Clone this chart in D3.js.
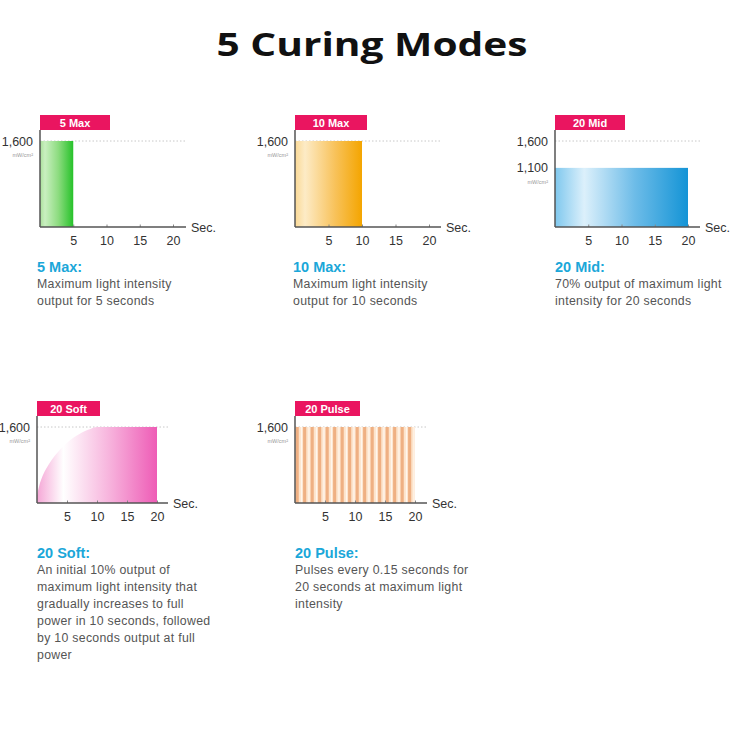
<!DOCTYPE html>
<html>
<head>
<meta charset="utf-8">
<script src="https://cdn.jsdelivr.net/npm/d3@7"></script>
<style>
  body { margin: 0; background: #fff; }
  svg { display: block; }
</style>
</head>
<body>
<svg id="chart" width="738" height="743"></svg>
<script>
// ---- data ----
const modes = ["5 Max", "10 Max", "20 Mid", "20 Soft", "20 Pulse"];
const durations = [5, 10, 20, 20, 20];          // seconds of output
const intensities = [1600, 1600, 1100, 1600, 1600]; // mW/cm²
const xTicks = [5, 10, 15, 20];
const maxIntensity = 1600;

// 20 Soft ramp (seconds, mW/cm²)
const softTimes = [0, 0.5, 1, 2, 3, 4, 5, 6, 7, 8, 9, 10, 20];
const softValues = [160, 420, 590, 820, 1000, 1150, 1270, 1370, 1450, 1515, 1565, 1600, 1600];

// 20 Pulse: start of each pulse (seconds)
const pulseStarts = [0, 1.25, 2.5, 3.75, 5, 6.25, 7.5, 8.75, 10, 11.25, 12.5, 13.75, 15, 16.25, 17.5, 18.75];

const headings = ["5 Max:", "10 Max:", "20 Mid:", "20 Soft:", "20 Pulse:"];
const descriptions = [
  ["Maximum light intensity", "output for 5 seconds"],
  ["Maximum light intensity", "output for 10 seconds"],
  ["70% output of maximum light", "intensity for 20 seconds"],
  ["An initial 10% output of", "maximum light intensity that", "gradually increases to full",
   "power in 10 seconds, followed", "by 10 seconds output at full", "power"],
  ["Pulses every 0.15 seconds for", "20 seconds at maximum light", "intensity"]
];

// ---- layout ----
const layout = [
  {x0: 40,  x1: 173, base: 227, top: 141, end: 186, lblW: 70, txt: 45, tx: -3},
  {x0: 295, x1: 429, base: 227, top: 141, end: 441, lblW: 72, txt: 45, tx: -2},
  {x0: 555, x1: 688, base: 227, top: 141, end: 700, lblW: 70, txt: 45, tx: 0},
  {x0: 37,  x1: 157, base: 503, top: 427, end: 168, lblW: 63, txt: 55, tx: 0},
  {x0: 295, x1: 415, base: 503, top: 427, end: 427, lblW: 65, txt: 55, tx: 0}
];

const svg = d3.select("#chart");
const defs = svg.append("defs");

svg.append("text")
  .attr("x", 372).attr("y", 56)
  .attr("text-anchor", "middle")
  .attr("font-family", "Open Sans")
  .attr("font-weight", 700)
  .attr("font-size", 32)
  .attr("textLength", 311)
  .attr("lengthAdjust", "spacingAndGlyphs")
  .attr("fill", "#111")
  .text("5 Curing Modes");

// gradients for the fills
function gradient(id, stops) {
  const g = defs.append("linearGradient").attr("id", id)
    .attr("x1", "0%").attr("x2", "100%").attr("y1", "0%").attr("y2", "0%");
  stops.forEach(s => g.append("stop").attr("offset", s[0]).attr("stop-color", s[1]));
}
gradient("gGreen",  [[0, "#a9e09a"], [0.15, "#c9efc0"], [0.55, "#8ddc80"], [1, "#26c22a"]]);
gradient("gOrange", [[0, "#fad995"], [0.15, "#fdebc6"], [0.6, "#f8c25a"], [1, "#f4a500"]]);
gradient("gBlue",   [[0, "#7fc8ee"], [0.22, "#dcf0fb"], [0.6, "#6dbce8"], [1, "#1494d6"]]);
gradient("gPink",   [[0, "#f5a6d6"], [0.22, "#ffffff"], [0.6, "#f7b4dd"], [1, "#ee5cb6"]]);
const fills = ["url(#gGreen)", "url(#gOrange)", "url(#gBlue)", "url(#gPink)", null];

const fmt = d3.format(",");

modes.forEach((mode, i) => {
  const L = layout[i];
  const g = svg.append("g");

  const x = d3.scaleLinear().domain([0, 20]).range([L.x0, L.x1]);
  const y = d3.scaleLinear().domain([0, maxIntensity]).range([L.base, L.top]);

  // dotted max line
  g.append("line")
    .attr("x1", L.x0).attr("x2", L.end)
    .attr("y1", y(maxIntensity)).attr("y2", y(maxIntensity))
    .attr("stroke", "#c8c8c8").attr("stroke-width", 1)
    .attr("stroke-dasharray", "1.5,2");

  // marks
  if (i < 3) {
    g.append("rect")
      .attr("x", x(0)).attr("y", y(intensities[i]))
      .attr("width", x(durations[i]) - x(0))
      .attr("height", y(0) - y(intensities[i]))
      .attr("fill", fills[i]);
  } else if (i === 3) {
    const area = d3.area()
      .x((d, k) => x(softTimes[k]))
      .y0(y(0))
      .y1(d => y(d))
      .curve(d3.curveMonotoneX);
    g.append("path").datum(softValues).attr("d", area).attr("fill", fills[i]);
  } else {
    g.append("rect")
      .attr("x", x(0)).attr("y", y(maxIntensity))
      .attr("width", x(20) - x(0)).attr("height", y(0) - y(maxIntensity))
      .attr("fill", "#fde4cc");
    const pw = x(1.25) - x(0);
    g.selectAll("rect.pulse").data(pulseStarts).join("rect")
      .attr("class", "pulse")
      .attr("x", d => x(d) + pw * 0.08)
      .attr("y", y(maxIntensity))
      .attr("width", pw * 0.42)
      .attr("height", y(0) - y(maxIntensity))
      .attr("fill", "#efb083");
    g.selectAll("rect.gap").data(pulseStarts).join("rect")
      .attr("class", "gap")
      .attr("x", d => x(d) + pw * 0.78)
      .attr("y", y(maxIntensity))
      .attr("width", pw * 0.16)
      .attr("height", y(0) - y(maxIntensity))
      .attr("fill", "#fff6ee");
  }

  // label box
  const lblTop = L.top - 26, lblH = 15;
  g.append("rect")
    .attr("x", L.x0).attr("y", lblTop)
    .attr("width", L.lblW).attr("height", lblH)
    .attr("fill", "#ea1560");
  g.append("text")
    .attr("x", L.x0 + L.lblW / 2).attr("y", lblTop + lblH / 2 + 4)
    .attr("text-anchor", "middle")
    .attr("font-family", "Liberation Sans").attr("font-weight", 700)
    .attr("font-size", 11).attr("fill", "#fff")
    .text(mode);

  // y axis line
  g.append("line")
    .attr("x1", L.x0).attr("x2", L.x0)
    .attr("y1", lblTop + lblH).attr("y2", L.base)
    .attr("stroke", "#555").attr("stroke-width", 1.5);

  // x axis
  const ax = g.append("g")
    .attr("transform", `translate(0,${L.base})`)
    .call(d3.axisBottom(x).tickValues(xTicks).tickSizeInner(-2.5).tickSizeOuter(0).tickPadding(9));
  ax.select(".domain").remove();
  ax.selectAll(".tick line").attr("stroke", "#888");
  ax.selectAll(".tick text")
    .attr("font-family", "Liberation Sans").attr("font-size", 12.5).attr("fill", "#333");
  g.append("line")
    .attr("x1", L.x0).attr("x2", L.end)
    .attr("y1", L.base).attr("y2", L.base)
    .attr("stroke", "#555").attr("stroke-width", 1.5);
  g.append("text")
    .attr("x", L.end + 5).attr("y", L.base + 4.5)
    .attr("font-family", "Liberation Sans").attr("font-size", 12.5).attr("fill", "#333")
    .text("Sec.");

  // y labels
  const yVals = intensities[i] === maxIntensity ? [maxIntensity] : [maxIntensity, intensities[i]];
  yVals.forEach(v => {
    g.append("text")
      .attr("x", L.x0 - 7).attr("y", y(v) + 4.5)
      .attr("text-anchor", "end")
      .attr("font-family", "Liberation Sans").attr("font-size", 12.5).attr("fill", "#333")
      .text(fmt(v));
  });
  g.append("text")
    .attr("x", L.x0 - 7).attr("y", y(intensities[i]) + 16)
    .attr("text-anchor", "end")
    .attr("font-family", "Liberation Sans").attr("font-size", 5.5).attr("fill", "#999")
    .text("mW/cm²");

  // description
  const dy = L.base + L.txt;
  const tx = L.x0 + L.tx;
  g.append("text")
    .attr("x", tx).attr("y", dy)
    .attr("font-family", "Liberation Sans").attr("font-weight", 700)
    .attr("font-size", 14.5).attr("fill", "#1ba7d9")
    .text(headings[i]);
  descriptions[i].forEach((line, k) => {
    g.append("text")
      .attr("x", tx).attr("y", dy + 15.5 + k * 17)
      .attr("font-family", "Liberation Sans").attr("font-size", 12.3)
      .attr("letter-spacing", 0.3).attr("fill", "#555")
      .text(line);
  });
});
</script>
</body>
</html>
